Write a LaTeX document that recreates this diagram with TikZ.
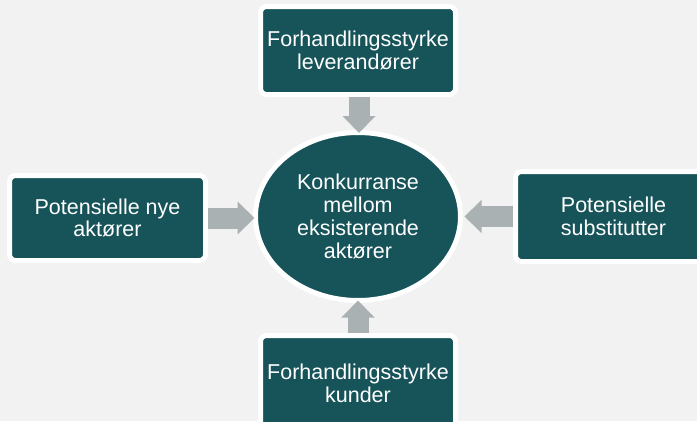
\documentclass[tikz,border=0pt]{standalone}
\usepackage{fontspec}
\setmainfont{Liberation Sans}
\usetikzlibrary{arrows.meta,shapes.geometric,calc}
\definecolor{tealbox}{HTML}{17545A}
\definecolor{bgcol}{HTML}{F2F2F2}
\definecolor{arrcol}{HTML}{A9B1B3}
\begin{document}
\begin{tikzpicture}[x=1pt,y=-1pt,
  lbl/.style={text=white,align=center,font=\fontsize{21.5}{22.8}\selectfont,inner sep=0pt,outer sep=0pt},
  box/.style={lbl,draw=white,line width=5pt,fill=tealbox,rounded corners=6pt,minimum width=195pt},
  ellnode/.style={lbl,ellipse,draw=white,line width=5pt,fill=tealbox,minimum width=205pt,minimum height=168pt},
  blk/.style={arrcol,line width=21pt,-{Triangle[width=32pt,length=17pt]}}]
\fill[bgcol] (0,0) rectangle (697,421);
\useasboundingbox (0,0) rectangle (697,421);
\node[box,minimum height=88pt] (sup) at (358,50.5) {Forhandlingsstyrke\\leverandører};
\node[box,minimum width=196pt,minimum height=85pt] (new) at (107.5,218) {Potensielle nye\\aktører};
\node[box,minimum width=196pt,minimum height=90pt] (sub) at (613.5,216.5) {Potensielle\\substitutter};
\node[box,minimum height=96pt] (cus) at (358,383.5) {Forhandlingsstyrke\\kunder};
\node[ellnode] (mid) at (358,216.5) {Konkurranse\\mellom\\eksisterende\\aktører};
\draw[blk] ($(sup.south)+(1,2.5)$) -- ($(mid.north)+(1,0.5)$);
\draw[blk] ($(new.east)+(2.5,0)$) -- ($(new.east -| mid.west)+(-1,0)$);
\draw[blk] ($(sub.west)+(-2.5,0)$) -- ($(sub.west -| mid.east)+(4,0)$);
\draw[blk] ($(cus.north)+(0,-2.5)$) -- ($(mid.south)+(0,0)$);
\end{tikzpicture}
\end{document}
